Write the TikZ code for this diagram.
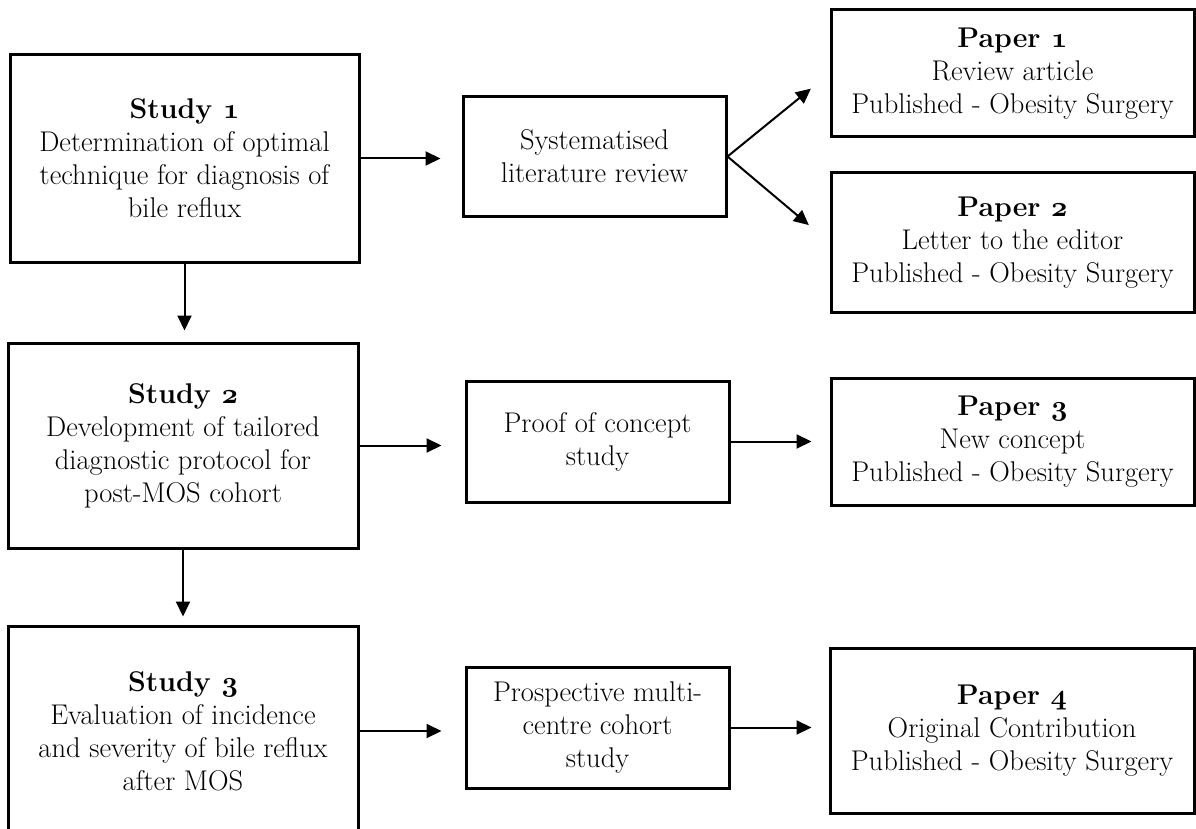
\RequirePackage{fix-cm}
\documentclass[tikz,border=0pt]{standalone}
\usetikzlibrary{arrows.meta}
\tikzset{
  box/.style={draw=black, line width=3pt, align=center, inner sep=0pt,
    font=\fontsize{28.5}{33}\selectfont, text=black},
  arr/.style={draw=black, line width=2pt, -{Triangle[length=15pt,width=14pt]}},
}
\newcommand{\osn}[1]{{\usefont{OML}{cmm}{b}{it}#1}}
\begin{document}
\begin{tikzpicture}[x=1pt,y=-1pt]
\clip (0,0) rectangle (1196,829);
\fill[white] (0,0) rectangle (1196,829);
% left column
\node[box, minimum width=349pt, minimum height=207pt] (s1) at (184.5,158.5)
  {\textbf{Study \osn{1}}\\Determination of optimal\\technique for diagnosis of\\bile reflux};
\node[box, minimum width=350pt, minimum height=205pt] (s2) at (183,445.5)
  {\textbf{Study \osn{2}}\\Development of tailored\\diagnostic protocol for\\post-MOS cohort};
\node[box, minimum width=350pt, minimum height=210pt] (s3) at (183,731)
  {\textbf{Study \osn{3}}\\Evaluation of incidence\\and severity of bile reflux\\after MOS};
% middle column
\node[box, minimum width=263pt, minimum height=119pt] (lit) at (594.5,156.5)
  {Systematised\\literature review};
\node[box, minimum width=263pt, minimum height=121pt] (proof) at (597.5,441.5)
  {Proof of concept\\study};
\node[box, minimum width=263pt, minimum height=121pt] (prosp) at (597.5,727.5)
  {Prospective multi-\\centre cohort\\study};
% right column
\node[box, minimum width=363pt, minimum height=127pt] (p1) at (1012.5,73.5)
  {\textbf{Paper \osn{1}}\\Review article\\Published - Obesity Surgery};
\node[box, minimum width=363pt, minimum height=139pt] (p2) at (1012.5,242.5)
  {\textbf{Paper \osn{2}}\\Letter to the editor\\Published - Obesity Surgery};
\node[box, minimum width=363pt, minimum height=127pt] (p3) at (1012.5,441.5)
  {\textbf{Paper \osn{3}}\\New concept\\Published - Obesity Surgery};
\node[box, minimum width=364pt, minimum height=165pt] (p4) at (1012,730.5)
  {\textbf{Paper \osn{4}}\\Original Contribution\\Published - Obesity Surgery};
% connectors
\draw[arr, shorten >=11pt] (s1.south) -- (s1.south |- s2.north);
\draw[arr, shorten >=8pt] (s2.south) -- (s2.south |- s3.north);
\draw[arr, shorten >=21pt] (s1.east) -- (s1.east -| lit.west);
\draw[arr, shorten >=23pt] (s2.east) -- (s2.east -| proof.west);
\draw[arr, shorten >=23pt] (s3.east) -- (s3.east -| prosp.west);
\draw[arr, shorten >=18pt] (proof.east) -- (proof.east -| p3.west);
\draw[arr, shorten >=17pt] (prosp.east) -- (prosp.east -| p4.west);
\draw[arr, shorten >=24pt] (lit.east) -- (p1.west);
\draw[arr, shorten >=27pt] (lit.east) -- (p2.west);
\end{tikzpicture}
\end{document}
